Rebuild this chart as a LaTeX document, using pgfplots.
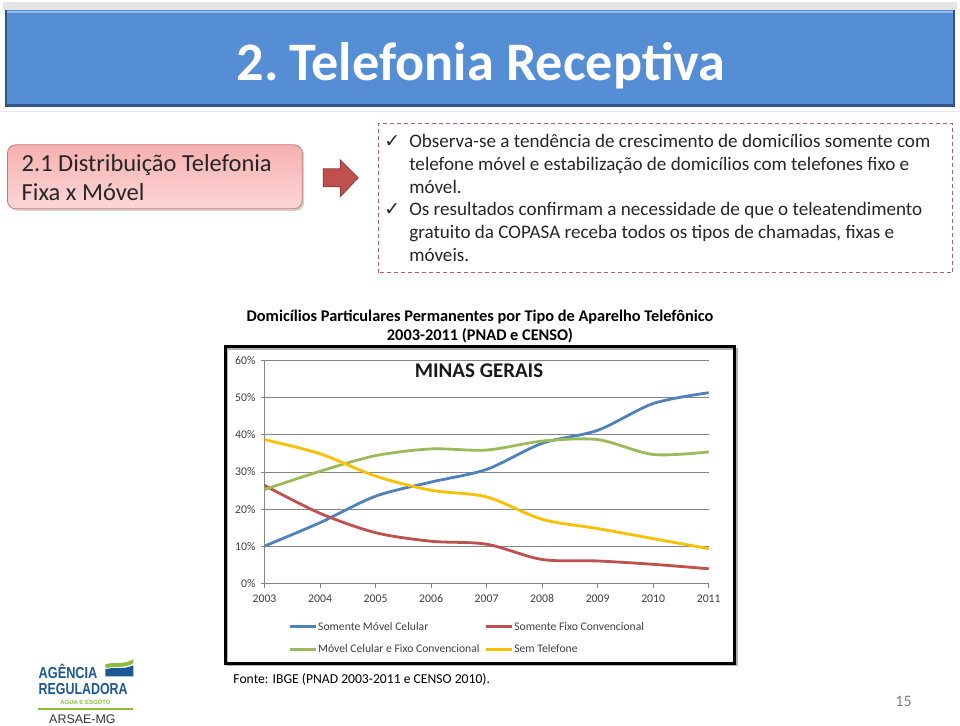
\documentclass[border=0pt]{standalone}
\usepackage{pgfplots}
\pgfplotsset{compat=1.18}
\usepackage{fontspec}
\setmainfont{Carlito}
\newfontfamily\dejavu{DejaVu Sans}
\newfontfamily\libsans{Liberation Sans}
\definecolor{barblue}{RGB}{85,142,213}
\definecolor{bardark}{RGB}{50,86,132}
\definecolor{barlight}{RGB}{150,188,232}
\definecolor{mblue}{RGB}{79,129,189}
\definecolor{mred}{RGB}{192,80,77}
\definecolor{mgreen}{RGB}{155,187,89}
\definecolor{myellow}{RGB}{250,192,0}
\definecolor{darktxt}{RGB}{64,64,64}
\definecolor{gridgray}{RGB}{134,134,134}
\definecolor{pinktop}{RGB}{246,176,176}
\definecolor{pinkbot}{RGB}{252,214,214}
\definecolor{pinkborder}{RGB}{205,120,118}
\definecolor{dashred}{RGB}{185,95,95}
\definecolor{logoblue}{RGB}{28,88,150}
\definecolor{logogreen}{RGB}{140,190,60}
\begin{document}
\begin{tikzpicture}
\begin{scope}[x=1bp,y=1bp]
\fill[white] (0,0) rectangle (960,726);
% title bar
\fill[gray!20] (3,716) rectangle (957,724);
\fill[barblue] (5,619) rectangle (955,716);
\draw[line width=3bp, bardark] (5,620.5) -- (955,620.5);
\draw[line width=1.5bp, bardark] (5.75,619) -- (5.75,716);
\draw[line width=1.5bp, bardark] (954.25,619) -- (954.25,716);
\draw[line width=2bp, barlight] (7,714) -- (953,714);
\node[anchor=base, white, font=\fontsize{54.5}{60}\selectfont\bfseries, inner sep=0pt] at (481,645) {2.\kern0.2em Telefonia Receptiva};
\draw[line width=1bp, blue!10] (0,614) -- (960,614);
% pink box
\fill[gray!35, rounded corners=8bp] (9,515) rectangle (304,579);
\shade[top color=pinktop, bottom color=pinkbot, rounded corners=8bp, draw=pinkborder, line width=0.8bp] (7,517) rectangle (302,581);
\node[anchor=base west, inner sep=0pt, font=\fontsize{24.6}{26}\selectfont, text=black!85] at (21,554) {2.1 Distribuição Telefonia};
\node[anchor=base west, inner sep=0pt, font=\fontsize{24.6}{26}\selectfont, text=black!85] at (21,525) {Fixa x Móvel};
% arrow
\filldraw[fill=mred, draw=mred!70!black, line width=0.8bp] (323,557) -- (340,557) -- (340,566) -- (358,548) -- (340,529) -- (340,539) -- (323,539) -- cycle;
% dashed box
\draw[dashred, line width=1.2bp, dash pattern=on 4bp off 3bp] (378,453) rectangle (953,602);
\begin{scope}[every node/.style={anchor=base west, inner sep=0pt, font=\fontsize{19.2}{20}\selectfont, text=black!85}]
\node at (384,578) {\dejavu\fontsize{19}{20}\selectfont ✓};
\node at (409,578) {Observa-se a tendência de crescimento de domicílios somente com};
\node at (409,555) {telefone móvel e estabilização de domicílios com telefones fixo e};
\node at (409,532) {móvel.};
\node at (384,510) {\dejavu\fontsize{19}{20}\selectfont ✓};
\node at (409,510) {Os resultados confirmam a necessidade de que o teleatendimento};
\node at (409,487) {gratuito da COPASA receba todos os tipos de chamadas, fixas e};
\node at (409,464) {móveis.};
\end{scope}
% chart title
\node[anchor=base, inner sep=0pt, font=\fontsize{16.4}{18}\selectfont\bfseries] at (480,404.3) {Domicílios Particulares Permanentes por Tipo de Aparelho Telefônico};
\node[anchor=base, inner sep=0pt, font=\fontsize{16.4}{18}\selectfont\bfseries] at (480,385.3) {2003-2011 (PNAD e CENSO)};
% chart frame
\draw[gray!60, line width=2bp] (227,60) rectangle (737,377);
\draw[black, line width=2.5bp] (225,62) rectangle (735,379);
\node[anchor=base, inner sep=0pt, font=\fontsize{21}{24}\selectfont\bfseries, text=black!90] at (479,348) {MINAS GERAIS};
% source
\node[anchor=base west, inner sep=0pt, font=\fontsize{13.7}{16}\selectfont] at (233,42) {Fonte: IBGE (PNAD 2003-2011 e CENSO 2010).};
% page number
\node[anchor=base, inner sep=0pt, font=\fontsize{16}{18}\selectfont, text=gray] at (904,19) {15};
% logo
\node[anchor=base west, inner sep=0pt, font=\libsans\bfseries\fontsize{16}{18}\selectfont, text=logoblue] at (38,47) {\scalebox{0.8}[1]{AGÊNCIA}};
\node[anchor=base west, inner sep=0pt, font=\libsans\bfseries\fontsize{16}{18}\selectfont, text=logoblue] at (38,31) {\scalebox{0.78}[1]{REGULADORA}};
\node[anchor=base, inner sep=0pt, font=\libsans\bfseries\fontsize{6}{7}\selectfont, text=logogreen] at (85,21) {ÁGUA E ESGOTO};
\draw[logogreen, line width=2bp] (38,16) -- (133,16);
\node[anchor=base, inner sep=0pt, font=\libsans\fontsize{12.5}{14}\selectfont, text=black!80] at (82,2) {ARSAE-MG};
\fill[logogreen] (105,61) .. controls (115,64) and (122,60) .. (133,66) -- (133,62) .. controls (122,56) and (115,60) .. (105,57) -- cycle;
\fill[logoblue] (105,56) .. controls (115,59) and (122,55) .. (133,60) -- (133,49) -- (105,49) -- cycle;
\end{scope}
\begin{axis}[
  at={(264.3bp,141.7bp)}, anchor=south west,
  scale only axis, width=444.7bp, height=223.6bp,
  xmin=2003, xmax=2011, ymin=0, ymax=60,
  xtick={2003,2004,...,2011}, ytick={0,10,...,60},
  xticklabels={2003,2004,2005,2006,2007,2008,2009,2010,2011},
  axis lines*=left,
  axis line style={gridgray, line width=0.8bp},
  ymajorgrids, grid style={gridgray, line width=0.8bp},
  tick align=outside, major tick length=4bp,
  tick style={gridgray, line width=0.8bp},
  /pgf/number format/.cd, 1000 sep={}, assume math mode=true, /pgfplots/.cd,
  yticklabel={\pgfmathprintnumber{\tick}\%},
  tick label style={font=\fontsize{11.8}{13}\selectfont, text=darktxt},
  xticklabel style={anchor=north, yshift=-3bp, text height=8bp, text depth=0bp},
  yticklabel style={xshift=-1.5bp},
  legend columns=2,
  legend cell align=left,
  legend style={at={(0.0533,-0.166)}, anchor=north west, draw=none, fill=none,
    font=\fontsize{11.7}{13}\selectfont, text=darktxt, inner sep=0pt,
    row sep=11bp,
    nodes={inner sep=1bp},
    /tikz/every even column/.append style={column sep=4bp}},
  legend image code/.code={\draw[#1, line width=2.8bp] (0bp,0bp) -- (26bp,0bp);},
  every axis plot/.append style={line width=2.8bp, smooth},
]
\addplot[mblue] coordinates {(2003,10.1) (2004,16.4) (2005,23.5) (2006,27.3) (2007,30.7) (2008,37.7) (2009,41.2) (2010,48.4) (2011,51.3)};
\addlegendentry{Somente Móvel Celular}
\addplot[mred] coordinates {(2003,26.4) (2004,18.9) (2005,13.7) (2006,11.4) (2007,10.6) (2008,6.5) (2009,6.1) (2010,5.2) (2011,4.0)};
\addlegendentry{Somente Fixo Convencional}
\addplot[mgreen] coordinates {(2003,25.3) (2004,30.2) (2005,34.4) (2006,36.2) (2007,35.9) (2008,38.3) (2009,38.7) (2010,34.7) (2011,35.4)};
\addlegendentry{Móvel Celular e Fixo Convencional}
\addplot[myellow] coordinates {(2003,38.7) (2004,34.9) (2005,28.9) (2006,25.1) (2007,23.3) (2008,17.3) (2009,14.8) (2010,12.1) (2011,9.4)};
\addlegendentry{Sem Telefone}
\end{axis}
\end{tikzpicture}
\end{document}
